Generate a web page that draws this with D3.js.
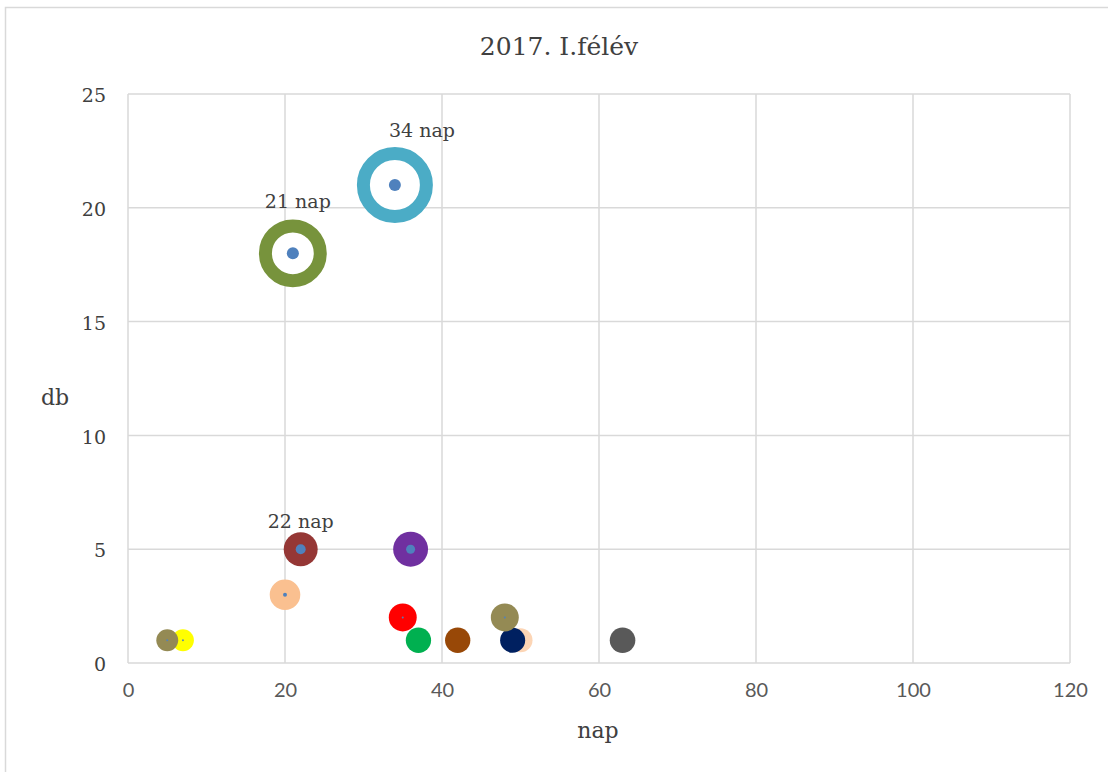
<!DOCTYPE html>
<html>
<head>
<meta charset="utf-8">
<script src="https://cdn.jsdelivr.net/npm/d3@7"></script>
<style>
  html, body { margin: 0; padding: 0; background: #fff; }
  svg { display: block; }
</style>
</head>
<body>
<svg id="chart" width="1108" height="772"></svg>
<script>
// bubble series (drawn in this order)
var bubbleX    = [7, 5, 20, 22, 36, 37, 42, 50, 49, 63, 35, 48, 21, 34];
var bubbleY    = [1, 1, 3, 5, 5, 1, 1, 1, 1, 1, 2, 2, 18, 21];
var bubbleSize = [7.5, 7.5, 14.6, 18, 19, 10, 10, 9, 9.8, 10.2, 12.2, 12.2, 47, 62];
var bubbleColor = ["#FFFF00", "#948A54", "#FAC090", "#953735", "#7030A0", "#00B050",
                   "#984807", "#FCD5B5", "#002060", "#595959", "#FF0000", "#948A54",
                   "#77933C", "#4BACC6"];
var bubbleRing = [false, false, false, false, false, false, false, false, false, false, false, false, true, true];

// small blue points on top
var dotX    = [21, 34, 22, 36, 20, 35, 48, 5, 7];
var dotY    = [18, 21, 5, 5, 3, 2, 2, 1, 1];
var dotSize = [2.25, 2.25, 1.56, 1.27, 0.25, 0.06, 0.06, 0.06, 0.06];

// data labels
var labelText = ["21 nap", "34 nap", "22 nap"];
var labelX    = [21, 34, 22];
var labelY    = [18, 21, 5];

var xTicks = [0, 20, 40, 60, 80, 100, 120];
var yTicks = [0, 5, 10, 15, 20, 25];

var svg = d3.select("#chart");
var serif = "'DejaVu Serif', serif";
var sans = "Lato, 'Liberation Sans', sans-serif";

// outer chart border
svg.append("rect")
  .attr("x", 5.5).attr("y", 7.5)
  .attr("width", 1120).attr("height", 800)
  .attr("fill", "#fff").attr("stroke", "#d9d9d9").attr("stroke-width", 1.5);

var x = d3.scaleLinear().domain([0, 120]).range([128, 1070]);
var y = d3.scaleLinear().domain([0, 25]).range([663, 94]);
var r = d3.scaleSqrt().domain([0, 100]).range([0, 40]);

// grid
svg.append("g").selectAll("line").data(yTicks).enter().append("line")
  .attr("x1", x(0)).attr("x2", x(120))
  .attr("y1", function(d) { return y(d); }).attr("y2", function(d) { return y(d); })
  .attr("stroke", "#d9d9d9").attr("stroke-width", 1.5);
svg.append("g").selectAll("line").data(xTicks).enter().append("line")
  .attr("y1", y(0)).attr("y2", y(25))
  .attr("x1", function(d) { return x(d); }).attr("x2", function(d) { return x(d); })
  .attr("stroke", "#d9d9d9").attr("stroke-width", 1.5);

// axes labels
var xAxis = svg.append("g").attr("transform", "translate(0," + y(0) + ")")
  .call(d3.axisBottom(x).tickValues(xTicks).tickSize(0).tickPadding(20));
xAxis.select(".domain").remove();
xAxis.selectAll("text").attr("font-family", sans).attr("font-size", 20).attr("fill", "#595959");

var yAxis = svg.append("g").attr("transform", "translate(" + x(0) + ",0)")
  .call(d3.axisLeft(y).tickValues(yTicks).tickSize(0).tickPadding(22));
yAxis.select(".domain").remove();
yAxis.selectAll("text").attr("font-family", serif).attr("font-size", 19).attr("fill", "#404040")
  .attr("dy", "0.4em");

// bubbles
var bubbles = bubbleX.map(function(d, i) {
  return { x: d, y: bubbleY[i], s: bubbleSize[i], c: bubbleColor[i], ring: bubbleRing[i] };
});
svg.append("g").selectAll("circle").data(bubbles).enter().append("circle")
  .attr("cx", function(d) { return x(d.x); })
  .attr("cy", function(d) { return y(d.y); })
  .attr("r", function(d) { return r(d.s); })
  .attr("fill", function(d) { return d.ring ? "#fff" : d.c; })
  .attr("stroke", function(d) { return d.ring ? d.c : "none"; })
  .attr("stroke-width", function(d) { return d.ring ? 13 : 0; });

var dots = dotX.map(function(d, i) { return { x: d, y: dotY[i], s: dotSize[i] }; });
svg.append("g").selectAll("circle").data(dots).enter().append("circle")
  .attr("cx", function(d) { return x(d.x); })
  .attr("cy", function(d) { return y(d.y); })
  .attr("r", function(d) { return r(d.s); })
  .attr("fill", "#4F81BD");

// data labels (pixel offsets from the bubble centre)
var labelDx = [5, 27, 0], labelDy = [-45, -48, -21];
svg.append("g").selectAll("text").data(labelText).enter().append("text")
  .attr("x", function(d, i) { return x(labelX[i]) + labelDx[i]; })
  .attr("y", function(d, i) { return y(labelY[i]) + labelDy[i]; })
  .attr("text-anchor", "middle")
  .attr("font-family", serif).attr("font-size", 19).attr("fill", "#404040")
  .text(function(d) { return d; });

// titles
svg.append("text").attr("x", 559).attr("y", 55).attr("text-anchor", "middle")
  .attr("font-family", serif).attr("font-size", 25).attr("fill", "#404040")
  .text("2017. I.félév");
svg.append("text").attr("x", 598).attr("y", 738).attr("text-anchor", "middle")
  .attr("font-family", serif).attr("font-size", 22).attr("fill", "#404040")
  .text("nap");
svg.append("text").attr("x", 55).attr("y", 405).attr("text-anchor", "middle")
  .attr("font-family", serif).attr("font-size", 22).attr("fill", "#404040")
  .text("db");
</script>
</body>
</html>
